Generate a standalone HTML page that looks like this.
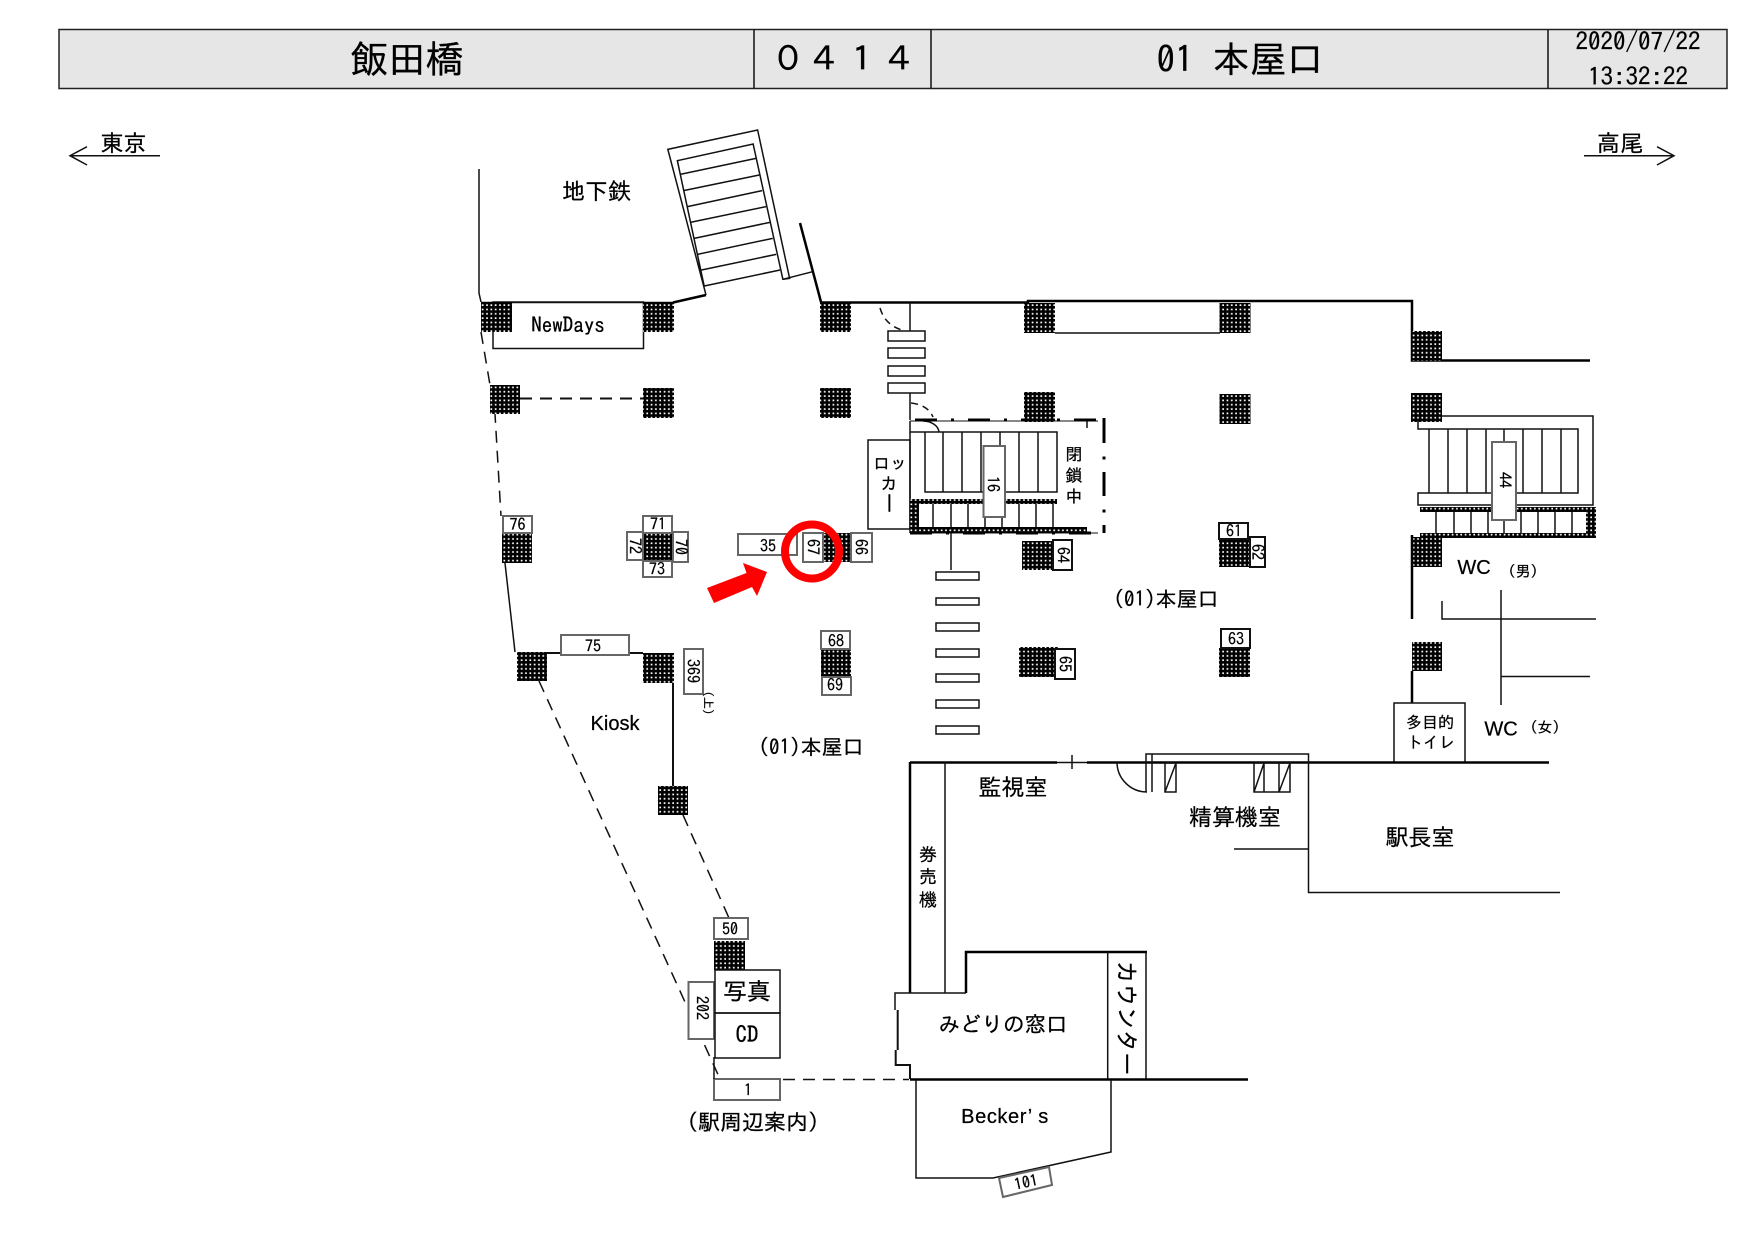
<!DOCTYPE html>
<html lang="ja"><head><meta charset="utf-8"><title>飯田橋 0414</title>
<style>
html,body{margin:0;padding:0;background:#fff}
svg{display:block}
text{font-family:"IPAGothic","Liberation Sans","Noto Sans CJK JP",sans-serif;fill:#000;stroke:#000;stroke-width:.25;text-anchor:middle;dominant-baseline:central}
.p{font-family:"Liberation Sans","IPAGothic",sans-serif}
.n{font-size:16px}
.l{fill:none;stroke:#111;stroke-width:1.5}
.t{fill:none;stroke:#000;stroke-width:2.5}
.g{fill:#fff;stroke:#666;stroke-width:2}
.b{fill:#fff;stroke:#111;stroke-width:2}
.d{fill:none;stroke:#111;stroke-width:1.5;stroke-dasharray:12 8}
.w{fill:#fff;stroke:#111;stroke-width:1.5}
.h{fill:url(#ht)}
.e{fill:none;stroke:#000;stroke-width:3;stroke-dasharray:22 14 3 14}
</style></head><body>
<svg xmlns="http://www.w3.org/2000/svg" width="1757" height="1243" viewBox="0 0 1757 1243">
<defs><pattern id="ht" patternUnits="userSpaceOnUse" width="4.33" height="4.33"><rect width="4.33" height="4.33" fill="#000"/><rect x="1.2" y="1.2" width="1.7" height="1.7" fill="#fff"/></pattern></defs>
<rect width="1757" height="1243" fill="#fff"/>

<!-- header -->
<rect x="59" y="29.5" width="1668" height="59" fill="#e6e6e6" stroke="#222" stroke-width="1.5"/>
<path class="l" d="M754 29.5V88.5M931 29.5V88.5M1548 29.5V88.5"/>
<text x="407" y="59" font-size="38">飯田橋</text>
<text x="788 825 862 900" y="59" font-size="34" style="text-anchor:middle">０４１４</text>
<text x="1175" y="59" font-size="37">01</text>
<text x="1268" y="59" font-size="37">本屋口</text>
<text x="1638" y="42" font-size="25">2020/07/22</text>
<text x="1638" y="77" font-size="25">13:32:22</text>

<!-- direction -->
<text x="123.5" y="143" font-size="23">東京</text>
<path class="l" d="M160 155.7H70M87 146.7L70 155.7L87 165"/>
<text x="1620" y="143" font-size="23">高尾</text>
<path class="l" d="M1584 155.7H1674M1657 146.7L1674 155.7L1657 165"/>

<!-- top-left structure -->
<path class="l" d="M479 169V293L481 302"/>
<text x="596.5" y="191" font-size="23">地下鉄</text>
<path class="l" d="M481 302.500H674"/>
<path class="t" d="M673 302.500L706 295"/>
<rect x="493" y="302" width="150.500" height="46.500" class="l" fill="none"/>
<text x="568" y="325" font-size="21">NewDays</text>

<!-- subway escalator -->
<g transform="scale(.5612 .33333)" fill="none" stroke="#111" stroke-width="1.500">
<path vector-effect="non-scaling-stroke" d="M1258 885L1190 448L1350 390L1407 835L1395 838L1342 432L1207 482L1255 860"/>
<path vector-effect="non-scaling-stroke" d="M1212 523L1347 475M1218 572L1353 525M1225 620L1358 572M1230 667L1365 620M1237 715L1372 667M1243 763L1377 715M1250 810L1383 763M1255 858L1390 810"/>
<path vector-effect="non-scaling-stroke" d="M1395 838L1448 815"/>
</g>
<path class="t" d="M800 223L821 302"/>

<!-- main top wall -->
<path class="t" d="M821 302.500H1028V301H1412V360.500H1590"/>
<path class="l" d="M1055 333H1220"/>
<path class="l" d="M910 303V331M910 393V420"/>
<path class="d" style="stroke-dasharray:7 5" d="M880 308Q885 325 902 330M911 403Q928 405 933 417"/>
<rect class="w" x="888" y="331" width="37" height="10"/>
<rect class="w" x="888" y="348" width="37" height="10"/>
<rect class="w" x="888" y="366" width="37" height="10"/>
<rect class="w" x="888" y="383" width="37" height="10"/>

<!-- left outer lines -->
<path class="d" d="M481 332L490 385L495 414L501 516"/>
<path class="l" d="M505 563L515 652"/>
<path class="d" d="M539 681L720 1079"/>
<path class="d" d="M520 398.500H643" style="stroke-width:2"/>
<path class="l" style="stroke-width:2" d="M547 653H643M673 683V786"/>
<path class="d" d="M683 815L729 918"/>
<path class="d" d="M783 1079.500H909"/>

<!-- pillars -->
<g class="h">
<rect x="481" y="302" width="31" height="30"/><rect x="643" y="302" width="31" height="30"/><rect x="820" y="302" width="31" height="30"/>
<rect x="490" y="385" width="30" height="29"/><rect x="643" y="388" width="31" height="30"/><rect x="820" y="388" width="31" height="30"/>
<rect x="1024" y="303" width="31" height="30"/><rect x="1219.500" y="303" width="31" height="30"/><rect x="1411" y="331" width="31" height="30"/>
<rect x="1024" y="392" width="31" height="30"/><rect x="1219.500" y="394" width="31" height="30"/><rect x="1411" y="393" width="31" height="29"/>
<rect x="502" y="533" width="30" height="30"/><rect x="643" y="533" width="30" height="27"/><rect x="823" y="533" width="28" height="29"/>
<rect x="517" y="652" width="30" height="29"/><rect x="643" y="653" width="31" height="30"/><rect x="821" y="648" width="30" height="28"/>
<rect x="658" y="786" width="30" height="29"/><rect x="714" y="941" width="31" height="29"/>
<rect x="1022" y="541" width="31" height="29"/><rect x="1019" y="647" width="39" height="30"/><rect x="1219" y="540" width="31" height="27"/><rect x="1219" y="648" width="31" height="29"/>
<rect x="1412" y="537" width="30" height="30"/><rect x="1412" y="642" width="30" height="29"/>
</g>

<!-- numbered boxes -->
<g>
<rect class="g" x="503" y="516" width="29" height="17"/><text class="n" x="517.500" y="524.500">76</text>
<rect class="g" x="643" y="516" width="29" height="17"/><text class="n" x="658" y="524">71</text>
<rect class="g" x="627" y="532" width="16" height="28"/><text class="n" transform="rotate(90 635 546)" x="635" y="546">72</text>
<rect class="g" x="673" y="532" width="15" height="30"/><text class="n" transform="rotate(90 681 547)" x="681" y="547">70</text>
<rect class="g" x="643" y="561" width="29" height="16"/><text class="n" x="657" y="569">73</text>
<rect class="g" x="738" y="534" width="59" height="21"/><text class="n" x="768" y="546">35</text>
<rect class="g" x="803" y="533" width="20" height="29"/><text class="n" transform="rotate(90 813 547)" x="813" y="547">67</text>
<rect class="g" x="851" y="533" width="21" height="29"/><text class="n" transform="rotate(90 861 547)" x="861" y="547">66</text>
<rect class="g" x="561" y="635" width="68" height="20"/><text class="n" x="593" y="646">75</text>
<rect class="g" x="684" y="649" width="19" height="45"/><text class="n" transform="rotate(90 693 671)" x="693" y="671">369</text>
<text font-size="12" transform="rotate(90 708 703)" x="708" y="703">(上)</text>
<rect class="g" x="821" y="631" width="29" height="18"/><text class="n" x="836" y="641">68</text>
<rect class="g" x="822" y="677" width="29" height="18"/><text class="n" x="835" y="685">69</text>
<rect class="g" x="714" y="918" width="34" height="21"/><text class="n" x="730" y="929">50</text>
<rect class="g" x="714" y="1079" width="66" height="21"/><text class="n" x="748" y="1090">1</text>
<rect class="g" x="688.500" y="982" width="25.500" height="57"/><text font-size="16" transform="rotate(90 702 1008)" x="702" y="1008">202</text>
<rect class="b" x="1053" y="540" width="19" height="30"/><text class="n" transform="rotate(90 1063 555)" x="1063" y="555">64</text>
<rect class="b" x="1055" y="649" width="20" height="30"/><text class="n" transform="rotate(90 1065 664)" x="1065" y="664">65</text>
<rect class="b" x="1219" y="523" width="29" height="16"/><text class="n" x="1234" y="531">61</text>
<rect class="b" x="1250" y="537" width="15" height="30"/><text class="n" transform="rotate(90 1257.500 552)" x="1257.500" y="552">62</text>
<rect class="b" x="1221" y="629" width="29" height="19"/><text class="n" x="1236" y="639">63</text>
</g>

<!-- red marker -->
<circle cx="812" cy="551.500" r="27" fill="none" stroke="#f00" stroke-width="8"/>
<polygon fill="#f00" points="707,588 746.500,573 743,563 767,572 757,596 752,587 714,603"/>

<!-- locker and center escalator -->
<rect class="l" x="868" y="440" width="42" height="89" fill="#fff"/>
<text x="890" y="464" font-size="17">ロッ</text>
<text x="889" y="484" font-size="17">カ</text>
<text x="889" y="503" font-size="21" transform="rotate(90 889 503)">ー</text>
<path class="l" d="M910 421V533M910 432H1057V492H925V432M943 432V492M962 432V492M981 432V492M1000 432V492M1019 432V492M1038 432V492"/>
<path class="l" d="M933 504V527M951 504V527M968 504V527M985 504V527M1002 504V527M1019 504V527M1036 504V527M1053 504V527M1087 421V428"/>
<path class="l" d="M923 421A16 12 0 0 1 939 432"/>
<path class="l" d="M910 421H1098M910 533H1098" style="stroke-width:1"/>
<path class="e" d="M915 420H1098M910 533H1098"/>
<path class="e" d="M1104 418V443M1104 456.500V459.500M1104 472V496M1104 509.500V512.500M1104 525V533" style="stroke-dasharray:none"/>
<rect class="h" x="910" y="499" width="147" height="5"/>
<rect class="h" x="910" y="500" width="9" height="33"/>
<rect class="h" x="910" y="527" width="177" height="6"/>
<rect class="g" x="983.500" y="446" width="21.500" height="71"/>
<text class="n" transform="rotate(90 993 484)" x="993" y="484">16</text>
<text x="1074" y="455" font-size="17">閉</text><text x="1074" y="476" font-size="17">鎖</text><text x="1074" y="497" font-size="17">中</text>
<path class="l" d="M951 533V570"/>
<rect class="w" x="936" y="572" width="43" height="8"/><rect class="w" x="936" y="598" width="43" height="7"/><rect class="w" x="936" y="623" width="43" height="8"/><rect class="w" x="936" y="649" width="43" height="8"/><rect class="w" x="936" y="674" width="43" height="8"/><rect class="w" x="936" y="700" width="43" height="8"/><rect class="w" x="936" y="726" width="43" height="8"/>

<text x="1166" y="599" font-size="21">(01)本屋口</text>
<text x="811" y="747" font-size="21">(01)本屋口</text>
<text class="p" x="615" y="724" font-size="20">Kiosk</text>

<!-- right escalator -->
<path class="l" d="M1442 416H1593V505H1418V493H1578V429H1418V420M1429 429V493M1448 429V493M1467 429V493M1486 429V493M1504 429V493M1523 429V493M1542 429V493M1561 429V493"/>
<path class="l" d="M1436 512V533M1454 512V533M1471 512V533M1488 512V533M1504 512V533M1521 512V533M1538 512V533M1555 512V533M1572 512V533"/>
<rect class="h" x="1420" y="507" width="176" height="5"/>
<rect class="h" x="1586" y="507" width="10" height="31"/>
<rect class="h" x="1420" y="533" width="176" height="5"/>
<rect class="g" x="1492" y="442" width="24" height="78"/>
<text class="n" transform="rotate(90 1505 480)" x="1505" y="480">44</text>
<path class="t" d="M1412 535V619M1412 671V703"/>
<text class="p" x="1474" y="568" font-size="20">WC</text>
<text x="1523" y="571" font-size="15">(男)</text>
<path class="l" d="M1442 601V619H1596M1501 590V705M1501 676.500H1590"/>
<rect class="l" x="1394" y="703" width="71" height="59.500"/>
<text x="1430" y="722" font-size="16">多目的</text>
<text x="1431" y="742" font-size="16">トイレ</text>
<text class="p" x="1501" y="729.500" font-size="20">WC</text>
<text x="1545" y="727" font-size="15">(女)</text>

<!-- lower wall -->
<path class="t" d="M910 762.500H1057M1087 762.500H1549"/>
<path class="l" d="M1057 762.500H1087M1072 755V769"/>
<path class="l" d="M1117 762A30 30 0 0 0 1147 792M1146 792V754H1308.500V892.500H1560M1152 754V792M1234 849H1308.500"/>
<rect class="l" x="1165" y="763" width="11" height="29"/><path class="l" d="M1165 792L1176 763"/>
<path class="l" d="M1254 763H1290V792H1254ZM1264 763V792M1279 763V792M1254 792L1264 763M1279 792L1290 763"/>
<text x="1013" y="787" font-size="23">監視室</text>
<text x="1235" y="817" font-size="23">精算機室</text>
<text x="1420" y="837" font-size="23">駅長室</text>

<!-- ticket area -->
<path class="t" d="M910 762V993"/>
<path class="l" d="M945 762V993M895 1010V993H966"/>
<text x="928" y="855" font-size="18">券</text><text x="928" y="877" font-size="18">売</text><text x="928" y="900" font-size="18">機</text>
<path class="t" d="M966 993V952H1147"/>
<path class="l" style="stroke-width:2" d="M897.700 1010V1050M895.700 1050V1065H910V1079"/>
<path class="l" d="M1107.700 952V1079M1146 952V1079"/>
<path class="t" d="M910 1079.500H1248"/>
<text x="1003" y="1024" font-size="21.500">みどりの窓口</text>
<text font-size="23" transform="rotate(90 1127 1018)" x="1127" y="1018">カウンター</text>

<!-- photo / CD -->
<path class="l" d="M714 1057V1079"/>
<rect class="l" x="715" y="970" width="65" height="43"/><rect class="l" x="715" y="1013" width="65" height="45"/>
<text x="747" y="991" font-size="24">写真</text>
<text x="747" y="1034" font-size="23">CD</text>
<text x="753" y="1122" font-size="22">(駅周辺案内)</text>

<!-- Becker's -->
<path class="l" d="M916 1080V1178H993L1111 1152V1080"/>
<text class="p" x="1005" y="1117" font-size="20" style="letter-spacing:.6px">Becker’ s</text>
<polygon class="g" points="999,1178 1049,1167 1052,1185 1003,1197"/>
<text class="n" transform="rotate(-12 1026 1182)" x="1026" y="1182">101</text>
</svg>
</body></html>
